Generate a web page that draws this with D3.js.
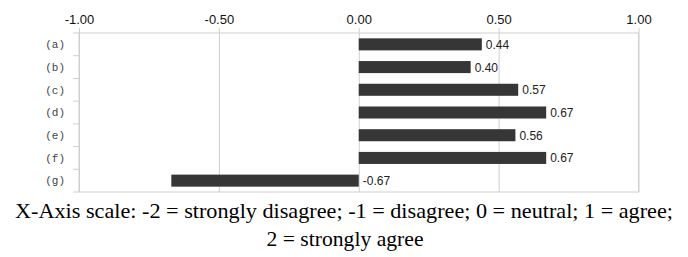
<!DOCTYPE html>
<html>
<head>
  <meta charset="utf-8">
  <script src="https://d3js.org/d3.v7.min.js"></script>
  <style>
    body { margin: 0; background: #fff; }
  </style>
</head>
<body>
<svg id="chart"></svg>
<script>
  var w = 688, h = 257;
  // chart data
  var categories = ["(a)", "(b)", "(c)", "(d)", "(e)", "(f)", "(g)"];
  var values = [0.44, 0.40, 0.57, 0.67, 0.56, 0.67, -0.67];
  var xTicks = [-1, -0.5, 0, 0.5, 1];
  var captionLines = ["X-Axis scale: -2 = strongly disagree; -1 = disagree; 0 = neutral; 1 = agree;",
                      "2 = strongly agree"];

  var plotL = 79, plotR = 638.5, plotT = 33, plotB = 192;

  // plain hyphen for negatives, like the original
  var fmt = function(d) { return d3.format(".2f")(d).replace("\u2212", "-"); };

  var svg = d3.select("#chart").attr("width", w).attr("height", h);

  var xScale = d3.scaleLinear().domain([-1, 1]).range([plotL, plotR]);
  var yScale = d3.scaleBand().domain(categories).range([plotT, plotB]).paddingInner(0.47).paddingOuter(0.235);
  var yEdges = d3.scaleBand().domain(categories).range([plotT, plotB]);

  // vertical gridlines + top axis
  var xAxis = d3.axisTop(xScale).tickValues(xTicks).tickFormat(fmt)
    .tickSize(-(plotB - plotT)).tickSizeOuter(0).tickPadding(9);
  var gx = svg.append("g").attr("transform", "translate(0," + plotT + ")").call(xAxis);
  gx.select(".domain").remove();
  gx.selectAll(".tick line").attr("stroke", "#cfcfcf").attr("y1", -5);
  gx.selectAll(".tick text").attr("font-family", "Liberation Sans, Arial, sans-serif")
    .attr("font-size", "13px").attr("fill", "#111");

  // plot border
  svg.append("rect").attr("x", plotL).attr("y", plotT)
    .attr("width", plotR - plotL).attr("height", plotB - plotT)
    .attr("fill", "none").attr("stroke", "#cfcfcf");

  // category ticks on the left edge
  var edges = categories.map(function(c) { return yEdges(c); }).concat([plotB]);
  svg.selectAll(".ytick").data(edges).enter().append("line")
    .attr("x1", plotL - 6).attr("x2", plotL)
    .attr("y1", function(d) { return d; }).attr("y2", function(d) { return d; })
    .attr("stroke", "#cfcfcf");

  svg.selectAll(".cat").data(categories).enter().append("text")
    .attr("x", 65).attr("y", function(d) { return yScale(d) + yScale.bandwidth() / 2; })
    .attr("dy", "0.35em").attr("text-anchor", "end")
    .attr("font-family", "Liberation Mono, Courier New, monospace").attr("font-size", "11px")
    .attr("fill", "#444").text(function(d) { return d; });

  // bars
  svg.selectAll(".bar").data(values).enter().append("rect")
    .attr("x", function(d) { return xScale(Math.min(0, d)); })
    .attr("y", function(d, i) { return yScale(categories[i]); })
    .attr("width", function(d) { return Math.abs(xScale(d) - xScale(0)); })
    .attr("height", yScale.bandwidth())
    .attr("fill", "#363636");

  // value labels
  svg.selectAll(".val").data(values).enter().append("text")
    .attr("x", function(d) { return xScale(Math.max(0, d)) + 4; })
    .attr("y", function(d, i) { return yScale(categories[i]) + yScale.bandwidth() / 2; })
    .attr("dy", "0.38em")
    .attr("font-family", "Liberation Sans, Arial, sans-serif").attr("font-size", "12px")
    .attr("fill", "#222").text(fmt);

  // caption
  svg.append("text").attr("x", 15).attr("y", 218)
    .attr("font-family", "Liberation Serif, Times New Roman, serif").attr("font-size", "21px")
    .attr("textLength", 658).attr("lengthAdjust", "spacingAndGlyphs")
    .attr("fill", "#000").text(captionLines[0]);
  svg.append("text").attr("x", 345).attr("y", 245.5).attr("text-anchor", "middle")
    .attr("font-family", "Liberation Serif, Times New Roman, serif").attr("font-size", "21px")
    .attr("textLength", 157).attr("lengthAdjust", "spacingAndGlyphs")
    .attr("fill", "#000").text(captionLines[1]);
</script>
</body>
</html>
